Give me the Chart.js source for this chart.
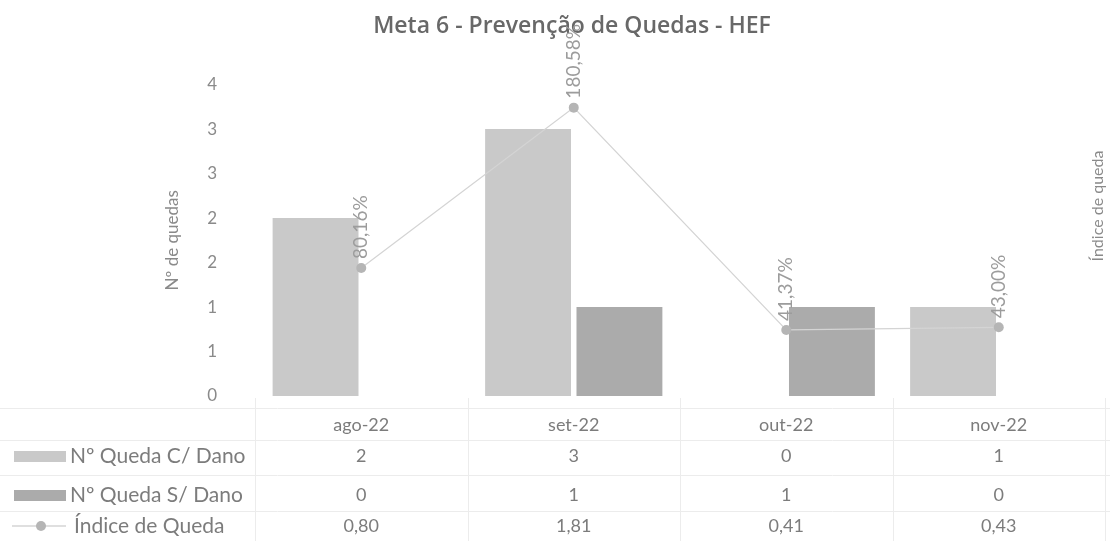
<!DOCTYPE html>
<html>
<head>
<meta charset="utf-8">
<script src="https://cdn.jsdelivr.net/npm/chart.js@4.4.0/dist/chart.umd.min.js"></script>
<style>
  html, body { margin: 0; padding: 0; background: #fff; }
  #wrap { width: 1110px; height: 541px; position: relative; }
</style>
</head>
<body>
<div id="wrap"><canvas id="quedasChart"></canvas></div>
<script>
var meses = ['ago-22', 'set-22', 'out-22', 'nov-22'];
var quedaComDano = [2, 3, 0, 1];
var quedaSemDano = [0, 1, 1, 0];
var indiceQueda = [0.8016, 1.8058, 0.4137, 0.4300];
var escalaQuedas = [0, 0.5, 1, 1.5, 2, 2.5, 3, 3.5];
var escalaIndice = [0, 1.95];

var FONTE = 'Lato, "Open Sans", sans-serif';
var COR_COM = '#c9c9c9';
var COR_SEM = '#ababab';
var COR_LINHA = '#d4d4d4';
var COR_PONTO = '#b5b5b5';
var COR_TEXTO = '#7c7c7c';

function virgula(v, casas) {
    return v.toFixed(casas).replace('.', ',');
}

// rotulos verticais com o percentual acima de cada ponto do indice
var rotulosIndice = {
    id: 'rotulosIndice',
    afterDatasetsDraw: function(chart) {
        var ctx = chart.ctx;
        var meta = chart.getDatasetMeta(2);
        ctx.save();
        ctx.font = '19px ' + FONTE;
        ctx.fillStyle = '#9c9c9c';
        ctx.textAlign = 'left';
        ctx.textBaseline = 'middle';
        meta.data.forEach(function(pt, i) {
            ctx.save();
            ctx.translate(pt.x, pt.y - 9);
            ctx.rotate(-Math.PI / 2);
            ctx.fillText(virgula(indiceQueda[i] * 100, 2) + '%', 0, 0);
            ctx.restore();
        });
        ctx.restore();
    }
};

// tabela de dados abaixo do grafico + titulo do eixo da direita
var tabelaDados = {
    id: 'tabelaDados',
    afterDraw: function(chart) {
        var ctx = chart.ctx;
        var x = chart.scales.x;
        var area = chart.chartArea;
        var linhas = [
            { nome: 'Nº Queda C/ Dano', dados: quedaComDano, y: 456, tipo: 'barra', cor: COR_COM, casas: 0 },
            { nome: 'Nº Queda S/ Dano', dados: quedaSemDano, y: 495, tipo: 'barra', cor: COR_SEM, casas: 0 },
            { nome: 'Índice de Queda', dados: indiceQueda, y: 526, tipo: 'linha', cor: COR_PONTO, casas: 2 }
        ];
        var larg = x.getPixelForValue(1) - x.getPixelForValue(0);

        ctx.save();
        // grade clarinha da tabela
        ctx.strokeStyle = '#ececec';
        ctx.lineWidth = 1;
        [408, 440, 475, 511].forEach(function(yy) {
            ctx.beginPath();
            ctx.moveTo(0, yy + 0.5);
            ctx.lineTo(chart.width, yy + 0.5);
            ctx.stroke();
        });
        for (var c = 0; c <= meses.length; c++) {
            var xx = Math.round(area.left + c * larg) + 0.5;
            ctx.beginPath();
            ctx.moveTo(xx, area.bottom + 2);
            ctx.lineTo(xx, chart.height);
            ctx.stroke();
        }

        ctx.textBaseline = 'middle';
        linhas.forEach(function(l) {
            if (l.tipo === 'barra') {
                ctx.fillStyle = l.cor;
                ctx.fillRect(14, l.y - 5, 52, 11);
            } else {
                ctx.strokeStyle = COR_LINHA;
                ctx.lineWidth = 1.5;
                ctx.beginPath();
                ctx.moveTo(12, l.y);
                ctx.lineTo(66, l.y);
                ctx.stroke();
                ctx.fillStyle = l.cor;
                ctx.beginPath();
                ctx.arc(41, l.y, 5, 0, Math.PI * 2);
                ctx.fill();
            }
            ctx.fillStyle = COR_TEXTO;
            ctx.textAlign = 'left';
            ctx.font = '21px ' + FONTE;
            ctx.fillText(l.nome, l.tipo === 'barra' ? 70 : 74, l.y);
            ctx.textAlign = 'center';
            ctx.font = '18px ' + FONTE;
            l.dados.forEach(function(v, i) {
                ctx.fillText(virgula(v, l.casas), x.getPixelForValue(i), l.y);
            });
        });

        ctx.font = '16px ' + FONTE;
        ctx.fillStyle = '#8a8a8a';
        ctx.translate(1098, 206);
        ctx.rotate(-Math.PI / 2);
        ctx.textAlign = 'center';
        ctx.fillText('Índice de queda', 0, 0);
        ctx.restore();
    }
};

var grafico = new Chart(document.getElementById('quedasChart'), {
    data: {
        labels: meses,
        datasets: [{
            type: 'bar',
            label: 'Nº Queda C/ Dano',
            data: quedaComDano,
            backgroundColor: COR_COM,
            yAxisID: 'y',
            order: 2
        }, {
            type: 'bar',
            label: 'Nº Queda S/ Dano',
            data: quedaSemDano,
            backgroundColor: COR_SEM,
            yAxisID: 'y',
            order: 2
        }, {
            type: 'line',
            label: 'Índice de Queda',
            data: indiceQueda,
            borderColor: COR_LINHA,
            borderWidth: 1.2,
            backgroundColor: COR_PONTO,
            pointBackgroundColor: COR_PONTO,
            pointBorderWidth: 0,
            pointRadius: 5,
            yAxisID: 'y1',
            order: 1
        }]
    },
    options: {
        responsive: true,
        maintainAspectRatio: false,
        animation: false,
        layout: { padding: { left: 34, right: 0, top: 0, bottom: 0 } },
        datasets: {
            bar: { categoryPercentage: 0.86, barPercentage: 0.94 }
        },
        plugins: {
            legend: { display: false },
            tooltip: { enabled: false },
            title: {
                display: true,
                text: 'Meta 6 - Prevenção de Quedas - HEF',
                color: '#686868',
                font: { family: '"Open Sans", Lato, sans-serif', size: 23, weight: '600' },
                padding: { top: 13, bottom: 44 }
            }
        },
        scales: {
            x: {
                grid: { display: false, drawTicks: false },
                border: { display: false },
                ticks: { color: COR_TEXTO, font: { family: FONTE, size: 18 }, padding: 18 },
                afterFit: function(s) { s.height = 145; }
            },
            y: {
                position: 'left',
                min: escalaQuedas[0],
                max: escalaQuedas[escalaQuedas.length - 1],
                grid: { display: false, drawTicks: false },
                border: { display: false },
                ticks: {
                    stepSize: 0.5,
                    color: '#8a8a8a',
                    font: { family: FONTE, size: 17 },
                    padding: 38,
                    callback: function(v) { return Math.round(v); }
                },
                title: {
                    display: true,
                    text: 'Nº de quedas',
                    color: '#8a8a8a',
                    font: { family: FONTE, size: 17 },
                    padding: { top: 128, bottom: 0 }
                },
                afterFit: function(s) { s.width = 221; }
            },
            y1: {
                position: 'right',
                display: false,
                min: escalaIndice[0],
                max: escalaIndice[1]
            }
        }
    },
    plugins: [rotulosIndice, tabelaDados]
});
</script>
</body>
</html>
